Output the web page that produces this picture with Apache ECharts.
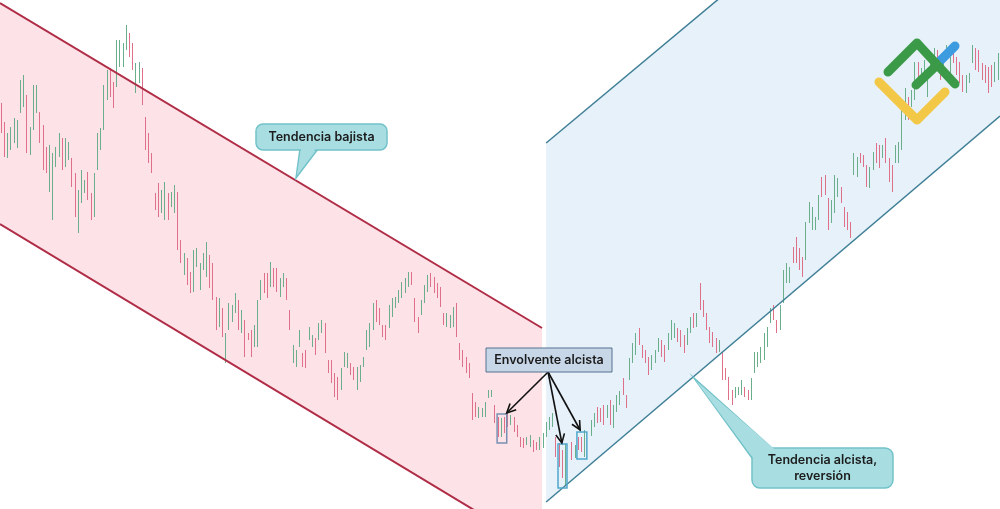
<!DOCTYPE html>
<html>
<head>
<meta charset="utf-8">
<script src="https://cdn.jsdelivr.net/npm/echarts@6/dist/echarts.min.js"></script>
<style>html,body{margin:0;padding:0;background:#fff}#c{width:1000px;height:509px}</style>
</head>
<body>
<div id="c"></div>
<script>
// Candles: [open, close, low, high]
const downtrendCandles = [
[400,382,376,406],[380,359,352,387],[356,371,351,376],[363,378,359,382],[371,386,366,391],
[366,384,361,389],[402,423,396,429],[408,428,402,434],[404,366,356,414],[359,377,354,382],
[387,416,379,424],[401,419,396,424],[391,372,366,397],[376,347,339,384],[357,341,336,362],
[326,355,317,364],[301,344,289,356],[346,358,342,362],[357,371,352,376],[365,345,339,371],
[347,366,342,371],[352,364,349,367],[346,327,322,351],[328,300,292,336],[284,311,276,319],
[312,333,306,339],[318,327,316,329],[332,314,309,337],[311,294,289,316],[300,328,292,336],
[346,369,339,376],[363,377,359,381],[387,416,379,424],[415,433,409,439],[434,417,412,439],
[422,406,401,427],[431,460,422,469],[447,464,442,469],[446,462,442,466],[464,479,459,484],
[472,456,452,476],[461,444,439,466],[422,440,416,446],[430,443,426,447],[434,411,404,441],
[386,365,359,392],[370,352,346,376],[352,340,336,356],[313,302,299,316],[320,298,292,326],
[300,315,296,319],[296,320,289,327],[311,294,289,316],[305,314,302,317],[301,319,296,324],
[307,269,259,317],[265,250,246,269],[238,252,234,256],[246,229,224,251],[233,220,216,237],
[225,251,217,259],[246,257,242,261],[224,241,219,246],[242,253,239,256],[238,261,232,267],
[248,227,221,254],[239,216,209,246],[206,185,179,212],[187,206,182,211],[196,177,172,201],
[152,170,146,176],[184,201,179,206],[190,201,187,204],[200,212,196,216],[203,185,179,209],
[180,195,176,199],[182,159,152,189],[174,171,169,176],[174,157,152,179],[166,180,162,184],
[171,200,162,209],[213,225,209,229],[232,220,216,236],[231,216,211,236],[227,242,222,247],
[237,226,222,241],[236,222,217,241],[216,227,212,231],[225,233,222,236],[227,213,209,231],
[195,183,179,199],[149,161,146,164],[145,156,142,159],[165,176,162,179],[153,145,142,156],
[156,144,141,159],[171,180,169,182],[164,172,162,174],[168,157,154,171],[172,183,169,186],
[178,187,176,189],[180,162,156,186],[147,138,136,149],[145,130,126,149],[132,116,112,136],
[128,113,109,132],[123,137,119,141],[145,154,142,157],[144,153,141,156],[144,136,134,146],
[140,131,129,142],[123,138,119,142],[130,141,127,144],[144,150,142,152],[163,175,159,179],
[166,182,162,186],[184,201,179,206],[205,191,187,209],[198,187,184,201],[182,174,172,184],
[181,172,169,184],[185,200,181,204],[196,207,192,211],[203,210,201,212],[208,217,206,219],
[214,224,211,227],[219,228,216,231],[225,234,222,237],[235,226,224,237],[207,191,187,211],
[189,179,176,192],[197,206,194,209],[209,221,206,224],[220,231,217,234],[233,225,222,236],
[229,219,216,232],[223,214,211,226],[218,206,202,222],[194,186,184,196],[185,193,182,196],
[183,192,181,194],[186,198,182,202],[200,178,172,206],[163,152,149,166],[156,145,142,159],
[149,139,136,152],[143,134,131,146],[111,94,89,116],[104,95,92,107],[93,100,91,102],
[94,99,92,101],[95,104,92,107],[112,118,111,119],[113,118,112,119],[101,89,86,104],
[88,76,72,92],[74,90,72,91],[89,79,76,92],[96,85,82,99],[86,92,84,94],
[89,80,77,92],[82,74,72,84],[70,64,62,72],[69,63,61,71],[65,71,64,72],
[64,72,62,74],[67,59,57,69],[66,60,59,67],[61,70,59,72],[64,73,61,76]
];
const NA = ['-','-','-','-'];
const uptrendCandles = [
[75,84,72,87],[82,89,79,92],[85,93,82,96],[68,56,52,72],[62,46,42,66],
[55,37,31,59],[34,60,23,65],NA,[64,52,49,67],[53,62,51,64],
[69,62,59,72],[69,60,57,72],[58,74,52,79],NA,[76,86,73,89],
[85,93,82,96],[99,89,86,102],[98,90,87,101],[100,88,84,104],[93,102,91,104],
[105,88,84,109],[85,100,81,104],[100,111,97,114],[107,115,104,118],[128,117,114,131],
[112,103,101,114],[133,147,129,151],[150,162,146,166],[158,172,154,176],[178,167,164,181],
[162,153,151,164],[157,148,146,159],[149,137,134,152],[142,151,139,154],[148,157,146,159],
[160,168,157,171],[166,155,152,169],[161,150,147,164],[162,173,159,176],[173,185,169,189],
[174,183,171,186],[178,170,167,181],[176,165,162,179],[171,159,156,174],[167,178,164,181],
[179,189,176,192],[193,184,181,196],[185,193,182,196],[221,204,199,226],[206,195,192,209],
[193,182,179,196],[179,169,166,182],[174,165,162,177],[168,159,156,171],[159,167,157,169],
[152,134,129,157],[139,131,129,141],[128,113,109,132],[116,107,104,119],[113,120,111,122],
[115,121,114,122],[117,126,114,129],[120,114,112,122],[117,111,109,119],[113,127,109,131],
[140,153,136,157],[145,154,142,157],[149,159,146,162],[154,171,149,176],[166,178,162,182],
[189,198,186,201],[201,192,189,204],[187,178,176,189],[183,200,179,204],[212,233,206,239],
[230,242,226,246],[229,239,226,242],[259,249,246,262],[267,251,246,272],[257,243,239,261],
[248,236,232,252],[256,280,249,287],[290,303,286,307],[283,298,279,302],[281,290,279,292],
[294,309,289,314],[328,316,312,332],[330,318,314,334],[305,285,279,311],[290,305,286,309],
[303,327,296,334],[315,327,312,331],[319,309,306,322],[298,286,282,302],[294,282,279,297],
[284,274,271,287],[338,352,334,356],[336,348,332,352],[354,348,346,356],[352,344,342,354],
[340,326,322,344],[325,338,321,342],[342,354,339,357],[362,350,346,366],[360,345,341,364],
[353,362,351,364],[366,351,346,371],[346,332,327,351],[339,322,317,344],[349,361,346,364],
[350,363,346,367],[365,392,359,399],[395,415,389,421],[408,393,389,412],[405,416,402,419],
[415,440,409,447],[444,435,432,447],[429,438,426,441],[435,446,432,449],[415,426,412,429],
[435,446,432,449],[449,458,446,461],[456,445,442,459],[447,433,429,451],[438,452,434,456],
[452,461,449,464],[439,449,436,452],[456,448,446,459],[448,438,434,452],[443,430,426,447],
[431,420,417,434],[419,431,416,434],[428,434,426,436],[449,461,446,464],[457,443,439,461],
[455,441,437,459],[443,432,429,446],[440,430,426,444],[437,421,416,442],[440,426,422,444],
[431,443,427,447],[434,451,429,456]
];

// Trend channels: [candle index, upper price, lower price] at start and end
const bearChannel = [[-0.5, 506, 285], [168.6, 181, -42]];
const bullChannel = [[169.9, 366, 7], [311.5, 745, 393]];

// Bullish engulfing patterns: [from index, to index, low price, high price]
const engulfingBoxes = [[154.6, 157.6, 66, 95], [173.6, 176.4, 21, 65], [179.5, 182.6, 50, 77]];
const arrowFrom = [170.5, 137];
const arrowTargets = [[157.6, 96], [174.8, 66], [180.5, 79]];

const labels = {
  bear: 'Tendencia bajista',
  engulf: 'Envolvente alcista',
  bull: 'Tendencia alcista,\nreversión'
};

const allCandles = downtrendCandles.concat(uptrendCandles);
const N = allCandles.length;
const sessions = allCandles.map((_, i) => String(i + 1));

const GREEN = '#6aae8c', RED = '#de7189';
const TEAL = '#a8dde1', TEAL_B = '#72c2c9';
const TOP = 100;

function channelFill(ch, fill) {
  return {
    type: 'custom', xAxisIndex: 1, yAxisIndex: 0, clip: true, z: 1, silent: true,
    data: [[ch[0][0], ch[0][1]]],
    renderItem: (params, api) => {
      const a = ch[0], b = ch[1];
      const u1 = api.coord([a[0], a[1]]), u2 = api.coord([b[0], b[1]]);
      const l1 = api.coord([a[0], a[2]]), l2 = api.coord([b[0], b[2]]);
      return { type: 'polygon', shape: { points: [u1, u2, l2, l1] }, style: { fill: fill } };
    }
  };
}
function channelLines(ch, stroke, lw) {
  return {
    type: 'custom', xAxisIndex: 1, yAxisIndex: 0, clip: true, z: 3, silent: true,
    data: [[ch[0][0], ch[0][1]]],
    renderItem: (params, api) => {
      const a = ch[0], b = ch[1];
      const u1 = api.coord([a[0], a[1]]), u2 = api.coord([b[0], b[1]]);
      const l1 = api.coord([a[0], a[2]]), l2 = api.coord([b[0], b[2]]);
      return { type: 'group', children: [
        { type: 'line', shape: { x1: u1[0], y1: u1[1], x2: u2[0], y2: u2[1] }, style: { stroke: stroke, lineWidth: lw } },
        { type: 'line', shape: { x1: l1[0], y1: l1[1], x2: l2[0], y2: l2[1] }, style: { stroke: stroke, lineWidth: lw } }
      ]};
    }
  };
}

function textEl(text, x, y, lh) {
  return { type: 'text', z: TOP + 3, style: { text: text, x: x, y: y, align: 'center', verticalAlign: 'middle', textAlign: 'center', textVerticalAlign: 'middle', fontFamily: 'Inter', fontWeight: 600, fontSize: 12.5, lineHeight: lh, fill: '#1b1b1b' } };
}

function callout(rect, tail, cover, text, r, lh) {
  return [
    { type: 'polygon', z: TOP, shape: { points: tail }, style: { fill: TEAL, stroke: TEAL_B, lineWidth: 1.5 } },
    { type: 'rect', z: TOP + 1, shape: { x: rect[0], y: rect[1], width: rect[2], height: rect[3], r: r }, style: { fill: TEAL, stroke: TEAL_B, lineWidth: 1.5 } },
    { type: 'polygon', z: TOP + 2, shape: { points: cover }, style: { fill: TEAL } },
    textEl(text, rect[0] + rect[2] / 2, rect[1] + rect[3] / 2, lh)
  ];
}

const graphics = [].concat(
  callout([256, 124, 131, 26], [[300, 149], [318, 149], [296, 178]], [[301.5, 147], [316.5, 147], [297, 175]], labels.bear, 7, 16),
  callout([752, 448, 141, 40], [[694, 378], [752, 458], [772, 448]], [[696, 381], [754, 459], [775, 449.6]], labels.bull, 8, 16),
  [
    { type: 'rect', z: TOP, shape: { x: 486, y: 348, width: 126, height: 24 }, style: { fill: '#c8d7e8', stroke: '#55708f', lineWidth: 1 } },
    textEl(labels.engulf, 549, 360, 16),
    { type: 'polyline', z: TOP + 10, shape: { points: [[879, 82], [917, 120], [945, 92]] }, style: { stroke: '#f4c847', lineWidth: 9, lineCap: 'round', lineJoin: 'round', fill: null } },
    { type: 'polyline', z: TOP + 11, shape: { points: [[939, 62], [955, 46]] }, style: { stroke: '#3d9be0', lineWidth: 9, lineCap: 'round', fill: null } },
    { type: 'polyline', z: TOP + 12, shape: { points: [[888, 72], [917, 43], [955, 84]] }, style: { stroke: '#3b9a48', lineWidth: 9, lineCap: 'round', lineJoin: 'round', fill: null } },
    { type: 'polyline', z: TOP + 12, shape: { points: [[916, 85], [937, 65]] }, style: { stroke: '#3b9a48', lineWidth: 9, lineCap: 'round', fill: null } }
  ]
);

const chart = echarts.init(document.getElementById('c'), null, { renderer: 'canvas' });
chart.setOption({
  animation: false,
  backgroundColor: '#ffffff',
  grid: { left: 0, right: 0, top: 0, bottom: 0 },
  xAxis: [
    { type: 'category', data: sessions, boundaryGap: true, show: false },
    { type: 'value', min: -0.5, max: N - 0.5, show: false }
  ],
  yAxis: [{ type: 'value', min: 0, max: 509, show: false }],
  series: [
    channelFill(bearChannel, '#fde3e7'),
    channelFill(bullChannel, '#e7f1fa'),
    {
      type: 'candlestick', xAxisIndex: 0, yAxisIndex: 0, z: 2, silent: true,
      data: allCandles, barWidth: 1,
      itemStyle: { color: GREEN, color0: RED, borderColor: GREEN, borderColor0: RED, borderWidth: 1 }
    },
    channelLines(bearChannel, '#b02c46', 2),
    channelLines(bullChannel, '#3f7f96', 1.5),
    {
      type: 'custom', xAxisIndex: 1, yAxisIndex: 0, z: 4, silent: true, clip: false,
      data: engulfingBoxes, encode: { x: [0, 1], y: [2, 3] },
      renderItem: (params, api) => {
        const p1 = api.coord([api.value(0), api.value(3)]);
        const p2 = api.coord([api.value(1), api.value(2)]);
        return { type: 'rect', shape: { x: p1[0], y: p1[1], width: p2[0] - p1[0], height: p2[1] - p1[1] },
          style: { fill: null, stroke: params.dataIndex === 0 ? '#7890b4' : '#4fa6cb', lineWidth: 1.5 } };
      }
    },
    {
      type: 'custom', xAxisIndex: 1, yAxisIndex: 0, z: 5, silent: true, clip: false,
      data: arrowTargets,
      renderItem: (params, api) => {
        const p0 = api.coord(arrowFrom);
        const p1 = api.coord([api.value(0), api.value(1)]);
        const ang = Math.atan2(p1[1] - p0[1], p1[0] - p0[0]);
        const L = 10, S = 0.45;
        const h1 = [p1[0] - L * Math.cos(ang - S), p1[1] - L * Math.sin(ang - S)];
        const h2 = [p1[0] - L * Math.cos(ang + S), p1[1] - L * Math.sin(ang + S)];
        return { type: 'group', children: [
          { type: 'line', shape: { x1: p0[0], y1: p0[1], x2: p1[0], y2: p1[1] }, style: { stroke: '#111', lineWidth: 1.6 } },
          { type: 'polyline', shape: { points: [h1, p1, h2] }, style: { stroke: '#111', lineWidth: 1.6, fill: null } }
        ]};
      }
    }
  ],
  graphic: graphics
});
</script>
</body>
</html>
